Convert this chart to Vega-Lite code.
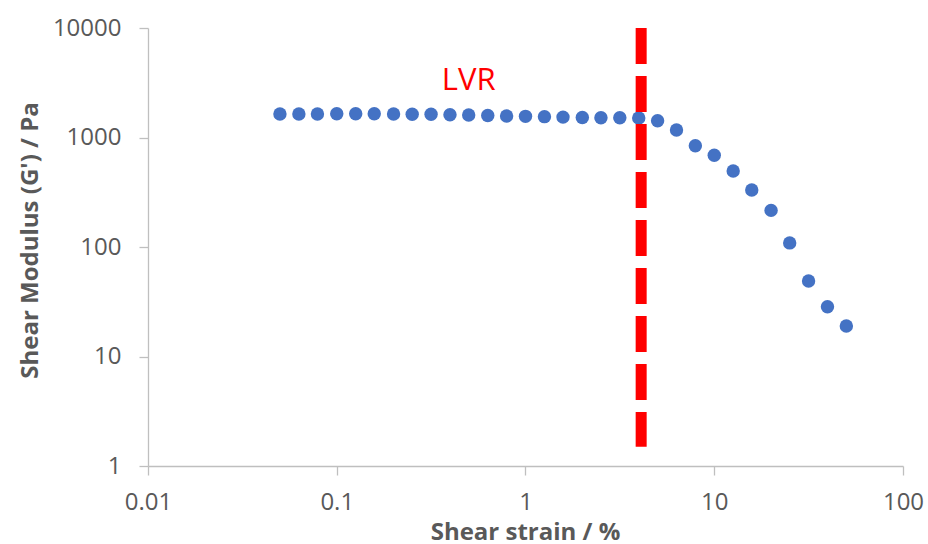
{
  "$schema": "https://vega.github.io/schema/vega-lite/v6.json",
  "width": 755,
  "height": 438,
  "autosize": {"type": "none"},
  "padding": {"left": 148, "top": 28, "right": 25, "bottom": 78},
  "background": "white",
  "config": {
    "view": {"stroke": null},
    "font": "Open Sans",
    "axis": {
      "grid": false,
      "labelFlush": false,
      "domainColor": "#bfbfbf",
      "domainWidth": 1.3,
      "tickColor": "#bfbfbf",
      "tickWidth": 1.3,
      "tickSize": 9,
      "labelColor": "#595959",
      "labelFont": "Open Sans",
      "labelFontSize": 24,
      "titleColor": "#595959",
      "titleFont": "Open Sans",
      "titleFontWeight": "bold",
      "titleFontSize": 24
    }
  },
  "datasets": {
    "g": [
      {"strain": 0.05, "G": 1640},
      {"strain": 0.063, "G": 1640},
      {"strain": 0.079, "G": 1640},
      {"strain": 0.1, "G": 1650},
      {"strain": 0.126, "G": 1650},
      {"strain": 0.158, "G": 1650},
      {"strain": 0.2, "G": 1640},
      {"strain": 0.251, "G": 1630},
      {"strain": 0.316, "G": 1630},
      {"strain": 0.398, "G": 1615},
      {"strain": 0.5, "G": 1605},
      {"strain": 0.631, "G": 1590},
      {"strain": 0.794, "G": 1570},
      {"strain": 1.0, "G": 1560},
      {"strain": 1.26, "G": 1550},
      {"strain": 1.58, "G": 1535},
      {"strain": 2.0, "G": 1525},
      {"strain": 2.51, "G": 1515},
      {"strain": 3.16, "G": 1515},
      {"strain": 3.98, "G": 1505},
      {"strain": 5.01, "G": 1423},
      {"strain": 6.31, "G": 1171},
      {"strain": 7.94, "G": 841},
      {"strain": 10.0, "G": 688},
      {"strain": 12.6, "G": 494},
      {"strain": 15.8, "G": 332},
      {"strain": 20.0, "G": 216},
      {"strain": 25.1, "G": 109},
      {"strain": 31.6, "G": 49},
      {"strain": 39.8, "G": 28.5},
      {"strain": 50.1, "G": 19}
    ],
    "lvr": [{"strain": 4.1, "top": 10000, "bottom": 1.5}],
    "label": [{"strain": 0.5, "G": 3300, "text": "LVR"}]
  },
  "layer": [
    {
      "data": {"name": "g"},
      "mark": {"type": "point", "filled": true, "size": 180, "opacity": 1, "color": "#4472C4"},
      "encoding": {
        "x": {
          "field": "strain", "type": "quantitative",
          "scale": {"type": "log", "domain": [0.01, 100], "nice": false},
          "axis": {"values": [0.01, 0.1, 1, 10, 100], "format": "~g", "labelPadding": 15, "labelBaseline": "top",
                   "title": "Shear strain / %", "titleX": 377, "titleY": 73, "titleBaseline": "alphabetic", "titleAlign": "center"}
        },
        "y": {
          "field": "G", "type": "quantitative",
          "scale": {"type": "log", "domain": [1, 10000], "nice": false},
          "axis": {"values": [1, 10, 100, 1000, 10000], "format": "~g", "labelPadding": 18,
                   "title": "Shear Modulus (G') / Pa", "titleX": -111, "titleY": 212, "titleAngle": -90, "titleBaseline": "alphabetic", "titleAlign": "center"}
        }
      }
    },
    {
      "data": {"name": "lvr"},
      "mark": {"type": "rule", "color": "#FF0000", "strokeWidth": 11, "strokeDash": [36, 12]},
      "encoding": {
        "x": {"field": "strain", "type": "quantitative"},
        "y": {"field": "top", "type": "quantitative"},
        "y2": {"field": "bottom"}
      }
    },
    {
      "data": {"name": "label"},
      "mark": {"type": "text", "color": "#FF0000", "fontSize": 31, "font": "Open Sans", "align": "center", "baseline": "middle"},
      "encoding": {
        "x": {"field": "strain", "type": "quantitative"},
        "y": {"field": "G", "type": "quantitative"},
        "text": {"field": "text"}
      }
    }
  ]
}
